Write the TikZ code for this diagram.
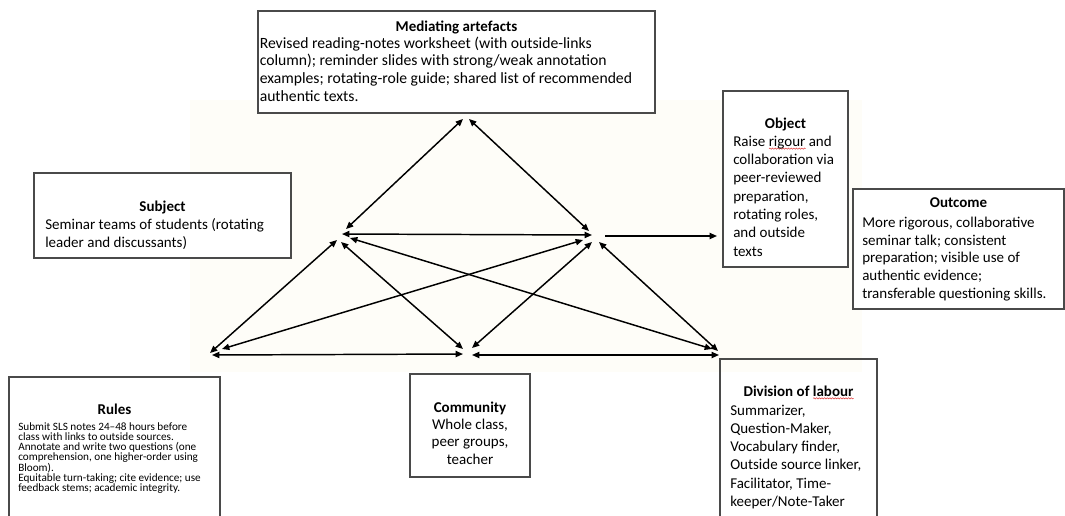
\documentclass[tikz,border=0pt]{standalone}
\usepackage{fontspec}
\setmainfont{Carlito}
\usetikzlibrary{arrows.meta, decorations.pathmorphing}

\definecolor{boxline}{HTML}{4A4A4A}
\definecolor{paper}{HTML}{FEFDF8}
\definecolor{spell}{HTML}{E04040}

% fonts: headings and box texts, plus the tight small type of the rules box
\newcommand\headfont{\fontsize{11.25pt}{13.5pt}\selectfont\bfseries}
\newcommand\bodyfont[2][11.25pt]{\fontsize{#1}{#2}\selectfont\lineskiplimit=-50pt\relax}
\newcommand\rulesfont{\fontsize{8.4pt}{7.7pt}\selectfont\lineskiplimit=-50pt\relax}
% fixed-height start of a text block, so its top sits a known distance above the first baseline
\newcommand\lead{\rule{0pt}{10pt}}
% red wavy underline of a flagged word
\newlength\spellwd
\newcommand\spellmark[1]{\settowidth\spellwd{#1}\rlap{\raisebox{-2.4pt}[0pt][0pt]{\tikz\draw[spell, line width=0.4pt, decorate, decoration={snake, amplitude=0.45pt, segment length=2pt}] (0pt,0pt) -- (\spellwd,0pt);}}#1}

\tikzset{Tri/.tip={Triangle[length=5.5pt,width=4.6pt]}}

\begin{document}
\begin{tikzpicture}[x=0.75pt, y=-0.75pt,
  box/.style={draw=boxline, line width=0.8pt, fill=white, inner sep=0pt, outer sep=0pt, anchor=north west},
  frame/.style={draw=boxline, line width=0.8pt},
  headline/.style={font=\headfont, inner sep=0pt, anchor=base},
  bodytext/.style={inner sep=0pt, anchor=north west, align=left},
  link/.style={Tri-Tri, line width=1.1pt},
  flow/.style={-Tri, line width=1.1pt}]

\useasboundingbox (0,0) rectangle (1065,515);
\fill[white] (0,0) rectangle (1065,515);
\fill[paper] (190,100) rectangle (862,372);

% ---- Mediating artefacts
\node[box, minimum width=297.75pt, minimum height=76.5pt] (medbox) at (258,11) {};
\node[headline] (medhead) at (456.5,31) {Mediating artefacts};
\node[bodytext, font={\bodyfont[11.75pt]{13.2pt}}] (medbody) at (259.5,34.7)
  {\lead Revised reading-notes worksheet (with outside-links\\column); reminder slides with strong/weak annotation\\examples; rotating-role guide; shared list of recommended\\authentic texts.};

% ---- Subject
\node[box, minimum width=192.75pt, minimum height=63.75pt] (subjbox) at (34,173) {};
\node[headline] (subjhead) at (162.5,211.5) {Subject};
\node[bodytext, font={\bodyfont{13.5pt}}] (subjbody) at (45,216)
  {\lead Seminar teams of students (rotating\\leader and discussants)};

% ---- Object
\node[box, minimum width=93.75pt, minimum height=132pt] (objbox) at (723,91) {};
\node[headline] (objhead) at (785.5,128) {Object};
\node[bodytext, font={\bodyfont{13.75pt}}] (objbody) at (733,132.7)
  {\lead Raise \spellmark{rigour} and\\collaboration via\\peer-reviewed\\preparation,\\rotating roles,\\and outside\\texts};

% ---- Outcome
\node[box, minimum width=158.25pt, minimum height=90pt] (outbox) at (853,189) {};
\node[headline] (outhead) at (958.5,207.5) {Outcome};
\node[bodytext, font={\bodyfont{13.35pt}}] (outbody) at (862,213.7)
  {\lead More rigorous, collaborative\\seminar talk; consistent\\preparation; visible use of\\authentic evidence;\\transferable questioning skills.};

% ---- Rules (frame runs off the lower edge)
\draw[frame] (9,516) -- (9,377) -- (220,377) -- (220,516);
\node[headline] (ruleshead) at (114.5,414.5) {Rules};
\node[bodytext, font=\rulesfont] (rulesbody) at (18,416.4)
  {\lead Submit SLS notes 24–48 hours before\\class with links to outside sources.\\Annotate and write two questions (one\\comprehension, one higher-order using\\Bloom).\\Equitable turn-taking; cite evidence; use\\feedback stems; academic integrity.};

% ---- Community
\node[box, minimum width=90pt, minimum height=77.25pt] (commbox) at (410,374) {};
\node[bodytext, align=center, anchor=north, font={\bodyfont{13pt}}] (comm) at (470,398.7)
  {\lead\textbf{Community}\\Whole class,\\peer groups,\\teacher};

% ---- Division of labour (frame runs off the lower edge)
\draw[frame] (720,516) -- (720,359) -- (877,359) -- (877,516);
\node[headline] (divhead) at (798.5,396) {Division of \spellmark{labour}};
\node[bodytext, font={\bodyfont{13.65pt}}] (divbody) at (730,401.7)
  {\lead Summarizer,\\Question-Maker,\\Vocabulary finder,\\Outside source linker,\\Facilitator, Time-\\keeper/Note-Taker};

% ---- activity triangle: end points of the connectors at each corner
% apex (tool)
\coordinate (a1) at (463,119);
\coordinate (a2) at (469,119);
% subject corner
\coordinate (s1) at (346,229);
\coordinate (s2) at (342,234);
\coordinate (s3) at (337,240);
\coordinate (s4) at (341,242);
\coordinate (s5) at (350,238);
% object corner
\coordinate (o1) at (589,231);
\coordinate (o2) at (592,235);
\coordinate (o3) at (583,240);
\coordinate (o4) at (592,242);
\coordinate (o5) at (599,242);
\coordinate (o6) at (605,236);
% rules corner
\coordinate (bl1) at (210,353);
\coordinate (bl2) at (222,349);
\coordinate (bl3) at (212,355);
% community corner
\coordinate (bm1) at (463,349);
\coordinate (bm2) at (472,348);
\coordinate (bm3) at (463,354);
\coordinate (bm4) at (472,355);
% division of labour corner
\coordinate (br1) at (712,349);
\coordinate (br2) at (718,351);
\coordinate (br3) at (719,355);
% outcome arrow end
\coordinate (oc) at (717,236);

\draw[link] (a1) -- (s1);
\draw[link] (a2) -- (o1);
\draw[link] (s2) -- (o2);
\draw[link] (s3) -- (bl1);
\draw[link] (s4) -- (bm1);
\draw[link] (s5) -- (br1);
\draw[link] (o3) -- (bl2);
\draw[link] (o4) -- (bm2);
\draw[link] (o5) -- (br2);
\draw[link] (bl3) -- (bm3);
\draw[link] (bm4) -- (br3);
\draw[flow] (o6) -- (oc);
\end{tikzpicture}
\end{document}
